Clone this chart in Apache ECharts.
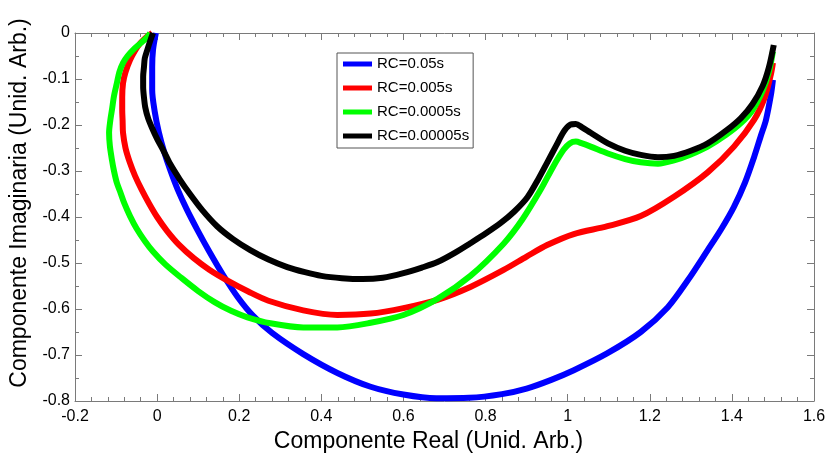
<!DOCTYPE html>
<html>
<head>
<meta charset="utf-8">
<script src="https://cdn.jsdelivr.net/npm/echarts@6/dist/echarts.min.js"></script>
<style>
  html, body { margin: 0; padding: 0; background: #fff; }
  #chart { width: 830px; height: 455px; }
</style>
</head>
<body>
<div id="chart"></div>
<script>
// Nyquist-type curves: [real, imaginary] pairs for each RC time constant
const seriesNames = ['RC=0.05s', 'RC=0.005s', 'RC=0.0005s', 'RC=0.00005s'];
const seriesColors = ['#0000ff', '#ff0000', '#00ff00', '#000000'];

const rc005 = [
  [-0.003, 0], [-0.01, -0.037], [-0.012, -0.074], [-0.012, -0.124], [-0.006, -0.17],
  [0.004, -0.215], [0.017, -0.258], [0.032, -0.298], [0.05, -0.34], [0.072, -0.383],
  [0.098, -0.428], [0.127, -0.475], [0.16, -0.525], [0.197, -0.575], [0.234, -0.615],
  [0.28, -0.652], [0.356, -0.698], [0.439, -0.739], [0.52, -0.769], [0.6, -0.786],
  [0.68, -0.794], [0.76, -0.793], [0.84, -0.785], [0.9, -0.773], [0.96, -0.754],
  [1.015, -0.733], [1.097, -0.696], [1.178, -0.65], [1.244, -0.596], [1.293, -0.537],
  [1.341, -0.472], [1.375, -0.425], [1.405, -0.378], [1.432, -0.325], [1.454, -0.27],
  [1.47, -0.225], [1.483, -0.189], [1.495, -0.135], [1.5, -0.102]
];

const rc0005 = [
  [-0.012, 0], [-0.025, -0.008], [-0.041, -0.022], [-0.055, -0.04], [-0.066, -0.059],
  [-0.077, -0.085], [-0.083, -0.109], [-0.085, -0.14], [-0.085, -0.167], [-0.084, -0.192],
  [-0.083, -0.217], [-0.077, -0.25], [-0.067, -0.28], [-0.054, -0.31], [-0.038, -0.34],
  [-0.02, -0.37], [0.0, -0.4], [0.024, -0.43], [0.053, -0.46], [0.09, -0.49],
  [0.128, -0.515], [0.175, -0.54], [0.222, -0.562], [0.271, -0.582], [0.356, -0.603],
  [0.439, -0.613], [0.52, -0.61], [0.6, -0.598], [0.683, -0.58], [0.763, -0.552],
  [0.844, -0.515], [0.9, -0.486], [0.95, -0.461], [1.015, -0.437], [1.097, -0.42],
  [1.178, -0.398], [1.259, -0.356], [1.341, -0.303], [1.405, -0.247], [1.454, -0.189],
  [1.48, -0.14], [1.495, -0.09], [1.5, -0.065]
];

const rc00005 = [
  [-0.017, 0], [-0.024, -0.009], [-0.04, -0.022], [-0.059, -0.037], [-0.072, -0.05],
  [-0.083, -0.065], [-0.092, -0.085], [-0.098, -0.109], [-0.105, -0.137], [-0.11, -0.167],
  [-0.114, -0.19], [-0.117, -0.217], [-0.115, -0.246], [-0.11, -0.276], [-0.105, -0.3],
  [-0.098, -0.326], [-0.09, -0.345], [-0.08, -0.37], [-0.066, -0.398], [-0.05, -0.425],
  [-0.03, -0.452], [-0.01, -0.475], [0.02, -0.503], [0.06, -0.533], [0.1, -0.561],
  [0.14, -0.585], [0.18, -0.604], [0.22, -0.618], [0.276, -0.631], [0.356, -0.64],
  [0.439, -0.64], [0.52, -0.63], [0.6, -0.613], [0.683, -0.578], [0.763, -0.528],
  [0.844, -0.458], [0.89, -0.405], [0.934, -0.341], [0.965, -0.29], [0.99, -0.254],
  [1.005, -0.24], [1.02, -0.236], [1.035, -0.24], [1.056, -0.247], [1.098, -0.262],
  [1.14, -0.274], [1.178, -0.281], [1.22, -0.284], [1.259, -0.277], [1.3, -0.264],
  [1.341, -0.247], [1.385, -0.222], [1.422, -0.196], [1.45, -0.168], [1.475, -0.125],
  [1.49, -0.085], [1.5, -0.04]
];

const rc000005 = [
  [-0.01, 0], [-0.016, -0.015], [-0.024, -0.037], [-0.03, -0.055], [-0.032, -0.074],
  [-0.034, -0.095], [-0.034, -0.117], [-0.032, -0.14], [-0.029, -0.161], [-0.022, -0.185],
  [-0.012, -0.207], [0.0, -0.23], [0.015, -0.255], [0.032, -0.285], [0.055, -0.318],
  [0.08, -0.35], [0.11, -0.385], [0.146, -0.42], [0.185, -0.448], [0.227, -0.472],
  [0.27, -0.492], [0.317, -0.509], [0.36, -0.52], [0.4, -0.528], [0.45, -0.533],
  [0.5, -0.535], [0.55, -0.532], [0.6, -0.522], [0.645, -0.51], [0.683, -0.498],
  [0.725, -0.478], [0.763, -0.457], [0.8, -0.436], [0.837, -0.413], [0.87, -0.388],
  [0.902, -0.357], [0.93, -0.315], [0.951, -0.28], [0.972, -0.245], [0.99, -0.215],
  [1.005, -0.2], [1.02, -0.198], [1.035, -0.205], [1.056, -0.217], [1.098, -0.24],
  [1.14, -0.256], [1.178, -0.265], [1.22, -0.27], [1.259, -0.267], [1.3, -0.256],
  [1.341, -0.24], [1.385, -0.213], [1.422, -0.185], [1.45, -0.155], [1.475, -0.115],
  [1.49, -0.075], [1.502, -0.026]
];

const curves = [rc005, rc0005, rc00005, rc000005];

// axis ranges and tick spacing
const xRange = { min: -0.2, max: 1.6, step: 0.2 };
const yRange = { min: -0.8, max: 0, step: 0.1 };

const FONT = 'Arial, "Liberation Sans", sans-serif';
const AXIS_GREY = '#7a7a7a';

function fmt(v) {
  const r = Math.round(v * 10) / 10;
  return r === 0 ? '0' : String(r);
}

function baseAxis(range, pos, showLabels, minorSplit) {
  return {
    type: 'value',
    position: pos,
    min: range.min,
    max: range.max,
    interval: range.step,
    axisLine: { show: true, onZero: false, lineStyle: { color: AXIS_GREY, width: 1 } },
    axisTick: { show: true, inside: true, length: 7, lineStyle: { color: AXIS_GREY, width: 1 } },
    minorTick: { show: true, splitNumber: minorSplit, length: 4, lineStyle: { color: AXIS_GREY, width: 1 } },
    splitLine: { show: false },
    axisLabel: {
      show: showLabels,
      color: '#000',
      fontFamily: FONT,
      fontSize: 16,
      formatter: fmt
    }
  };
}

const xBottom = Object.assign(baseAxis(xRange, 'bottom', true, 5), {
  name: 'Componente Real (Unid. Arb.)',
  nameLocation: 'middle',
  nameGap: 25,
  nameTextStyle: { fontFamily: FONT, fontSize: 23, color: '#000', padding: [0, 32, 0, 0] }
});
xBottom.axisLabel.margin = 8;
const xTop = baseAxis(xRange, 'top', false, 5);

const yLeft = Object.assign(baseAxis(yRange, 'left', true, 2), {
  name: 'Componente Imaginaria (Unid. Arb.)',
  nameLocation: 'middle',
  nameGap: 42,
  nameRotate: 90,
  nameTextStyle: { fontFamily: FONT, fontSize: 23, color: '#000', padding: [0, 0, 0, 28] }
});
yLeft.axisLabel.margin = 5;
const yRight = baseAxis(yRange, 'right', false, 2);

const chart = echarts.init(document.getElementById('chart'), null, { renderer: 'canvas' });

chart.setOption({
  animation: false,
  backgroundColor: '#fff',
  grid: { left: 75, right: 16, top: 33, bottom: 54, containLabel: false, outerBoundsMode: 'none' },
  xAxis: [xBottom, xTop],
  yAxis: [yLeft, yRight],
  legend: {
    left: 337,
    top: 53,
    orient: 'vertical',
    backgroundColor: '#fff',
    borderColor: '#555',
    borderWidth: 1,
    borderRadius: 0,
    padding: [2, 4, 3, 6],
    itemGap: 6,
    itemWidth: 29,
    itemHeight: 5,
    icon: 'rect',
    textStyle: { fontFamily: FONT, fontSize: 15, color: '#000', lineHeight: 18 },
    data: seriesNames
  },
  series: curves.map((pts, i) => ({
    name: seriesNames[i],
    type: 'line',
    xAxisIndex: 0,
    yAxisIndex: 0,
    data: pts,
    smooth: 0.3,
    showSymbol: false,
    lineStyle: { color: seriesColors[i], width: 6 },
    itemStyle: { color: seriesColors[i] }
  }))
});
</script>
</body>
</html>
